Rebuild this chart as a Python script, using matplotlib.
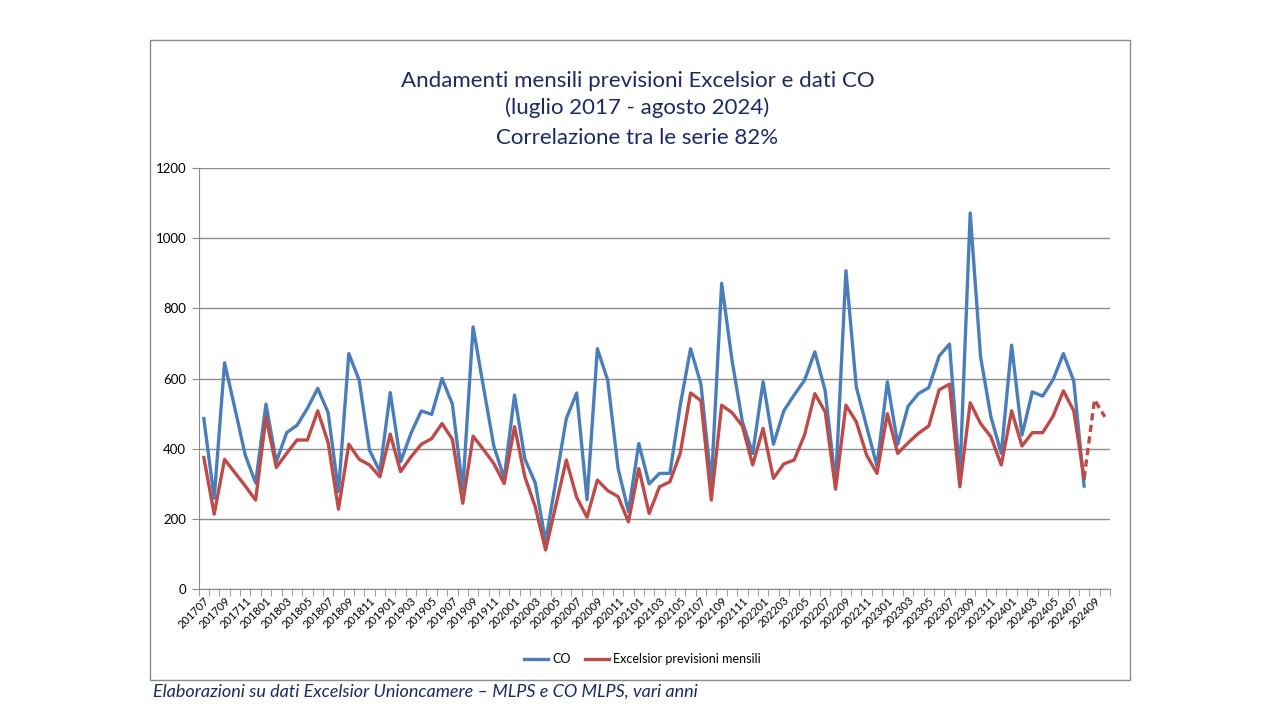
import matplotlib.pyplot as plt
import numpy as np
import pandas as pd
from matplotlib.patches import Rectangle
from matplotlib.ticker import FixedLocator, MultipleLocator

# ------------------------------------------------------------------------------
# Data.
# ------------------------------------------------------------------------------

months = list(pd.period_range("2017-07", "2024-10", freq="M").strftime("%Y%m"))

co = [
    486, 259, 645, 515, 382, 303, 527, 363, 446, 467,
    515, 572, 503, 278, 671, 595, 396, 335, 560, 363,
    444, 508, 498, 600, 527, 285, 747, 576, 408, 316,
    553, 371, 303, 136, 310, 486, 559, 255, 685, 595,
    344, 221, 415, 300, 330, 330, 524, 685, 584, 300,
    871, 652, 477, 387, 591, 413, 508, 553, 595, 676,
    565, 300, 907, 576, 463, 351, 591, 413, 521, 557,
    574, 664, 698, 320, 1071, 662, 491, 387, 695, 439,
    562, 550, 597, 671, 593, 294,
]

excelsior = [
    375, 214, 370, 332, 294, 254, 491, 347, 387, 425,
    425, 508, 418, 228, 413, 370, 354, 320, 442, 335,
    377, 413, 429, 472, 427, 245, 436, 398, 358, 301,
    463, 320, 235, 112, 240, 368, 262, 205, 311, 281,
    264, 192, 344, 216, 292, 306, 387, 559, 537, 254,
    524, 503, 465, 354, 458, 316, 357, 368, 439, 557,
    505, 285, 524, 477, 382, 330, 500, 387, 417, 444,
    465, 568, 584, 292, 531, 472, 434, 354, 508, 408,
    446, 446, 493, 565, 508, 316,
]

# Excelsior forecasts for the months not yet covered by CO data.
excelsior_forecast = [540, 491]

title_lines = [
    "Andamenti mensili previsioni Excelsior e dati CO",
    "(luglio 2017 - agosto 2024)",
    "Correlazione tra le serie 82%",
]
source_note = "Elaborazioni su dati Excelsior Unioncamere \u2013 MLPS e CO MLPS, vari anni"

# ------------------------------------------------------------------------------
# Plot.
# ------------------------------------------------------------------------------

BLUE = "#4A7EBB"
RED = "#BE4B48"
NAVY = "#1A2A66"
GRID = "#8C8C8C"

plt.rcParams["font.family"] = ["Lato", "DejaVu Sans"]

fig = plt.figure(figsize=(12.8, 7.2), dpi=100)
ax = fig.add_axes([0.1552, 0.1815, 0.8672 - 0.1552, 0.767 - 0.1815])

# Chart frame.
fig.patches.append(
    Rectangle((150 / 1280, 1 - 680 / 720), 980 / 1280, 640 / 720,
              transform=fig.transFigure, fill=False, edgecolor="#8C8C8C", lw=1)
)

x_co = np.arange(len(co))
x_exc = np.arange(len(excelsior))
x_fc = np.arange(len(excelsior) - 1, len(excelsior) + len(excelsior_forecast))
y_fc = [excelsior[-1]] + excelsior_forecast

ax.plot(x_co, co, color=BLUE, lw=2.4, label="CO", zorder=3)
ax.plot(x_exc, excelsior, color=RED, lw=2.4, label="Excelsior previsioni mensili", zorder=3)
ax.plot(x_fc, y_fc, color=RED, lw=2.4, ls=(0, (2.2, 1.3)), zorder=3)

ax.set_xlim(-0.5, len(months) - 0.5)
ax.set_ylim(0, 1200)
ax.yaxis.set_major_locator(MultipleLocator(200))
ax.grid(axis="y", color=GRID, lw=1)
ax.set_axisbelow(True)

ax.set_xticks(np.arange(0, len(months), 2))
ax.set_xticklabels(months[::2], rotation=45, ha="right", va="top",
                   rotation_mode="anchor", fontsize=8)
ax.xaxis.set_minor_locator(FixedLocator(np.arange(-0.5, len(months), 1)))
ax.tick_params(axis="x", which="major", length=0, pad=4)
ax.tick_params(axis="x", which="minor", length=5, color=GRID)
ax.tick_params(axis="y", length=5, color=GRID, labelsize=9.5, pad=4)

for side in ["top", "right"]:
    ax.spines[side].set_visible(False)
for side in ["left", "bottom"]:
    ax.spines[side].set_color(GRID)

for line, y_px in zip(title_lines, [81, 108, 138]):
    fig.text(0.498, 1 - y_px / 720, line, ha="center", va="center",
             fontsize=16, color=NAVY)

fig.legend(loc="center", bbox_to_anchor=(0.502, 1 - 659 / 720), ncol=2,
           frameon=False, fontsize=9, handlelength=1.9, handletextpad=0.3,
           columnspacing=1.2)

fig.text(153 / 1280, 1 - 692 / 720, source_note, ha="left", va="center",
         fontsize=13, style="italic", color=NAVY)

fig.savefig("out.png", dpi=100)
